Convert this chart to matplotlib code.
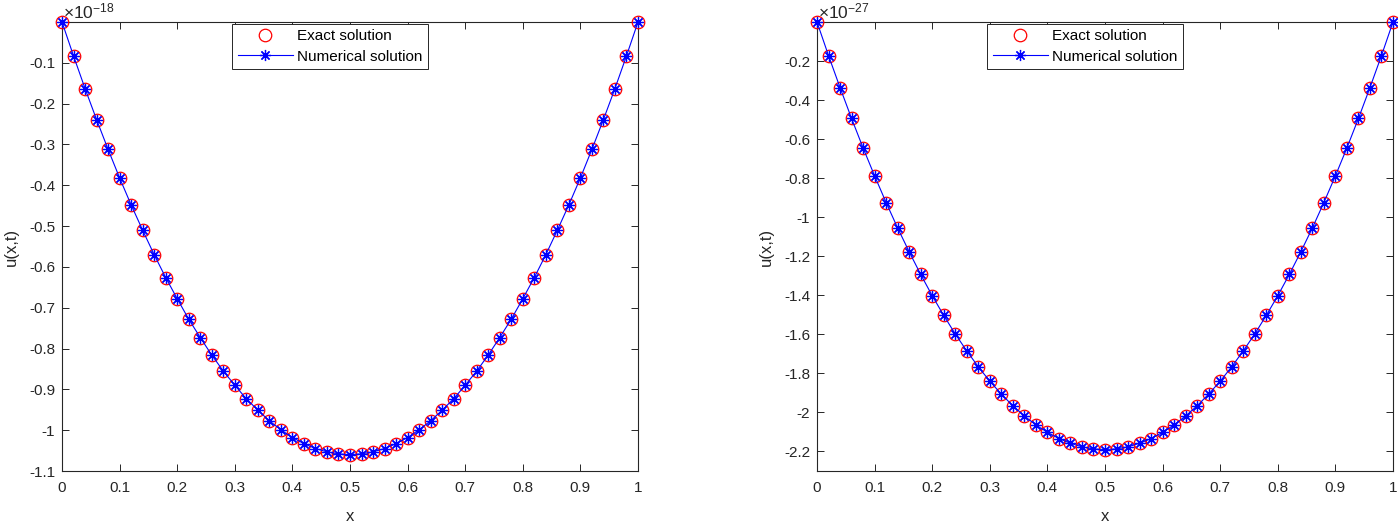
from matplotlib import pyplot as plt
from matplotlib.ticker import FuncFormatter
import numpy as np

# x grid (51 nodes)
x = np.round(np.arange(0, 51) * 0.02, 2)

# left panel, values in units of 1e-18
left_half = [0.000, -0.083, -0.163, -0.239, -0.312, -0.382, -0.448, -0.510,
             -0.570, -0.626, -0.678, -0.728, -0.773, -0.816, -0.855, -0.890,
             -0.923, -0.951, -0.977, -0.999, -1.018, -1.033, -1.045, -1.053,
             -1.058, -1.060]
u_left_exact = left_half + left_half[-2::-1]
u_left_num = list(u_left_exact)

# right panel, values in units of 1e-27
right_half = [0.000, -0.172, -0.336, -0.494, -0.645, -0.788, -0.925, -1.055,
              -1.177, -1.293, -1.402, -1.503, -1.598, -1.685, -1.766, -1.840,
              -1.906, -1.966, -2.018, -2.064, -2.102, -2.134, -2.158, -2.176,
              -2.187, -2.190]
u_right_exact = right_half + right_half[-2::-1]
u_right_num = list(right_half + right_half[-2::-1])

plt.rcParams['font.family'] = ['Liberation Sans', 'DejaVu Sans']
plt.rcParams['axes.unicode_minus'] = False
plt.rcParams['mathtext.fontset'] = 'custom'
plt.rcParams['mathtext.rm'] = 'Liberation Sans'
plt.rcParams['mathtext.it'] = 'Liberation Sans'

W, H = 1398, 524
fig = plt.figure(figsize=(W / 100, H / 100), dpi=100)

axcolor = '#262626'
fmt = FuncFormatter(lambda v, p: '%g' % round(v, 6))


def panel(left_px, exact, num, yticks, ymin, exp_label):
    ax = fig.add_axes([left_px / W, (H - 471) / H, 576 / W, 449 / H])
    ax.plot(x, exact, linestyle='none', marker='o', markersize=9,
            markerfacecolor='none', markeredgecolor='red', markeredgewidth=0.9,
            label='Exact solution', clip_on=False, zorder=3)
    ax.plot(x, num, color='blue', linewidth=0.8, marker=(8, 2, 0),
            markersize=8, markeredgewidth=0.9, label='Numerical solution',
            clip_on=False, zorder=4)
    ax.set_xlim(0, 1)
    ax.set_ylim(ymin, 0)
    ax.set_xticks(np.round(np.arange(0, 11) * 0.1, 1))
    ax.set_yticks(yticks)
    ax.xaxis.set_major_formatter(fmt)
    ax.yaxis.set_major_formatter(fmt)
    ax.tick_params(direction='in', top=True, right=True, length=5,
                   width=0.7, labelsize=11, colors=axcolor)
    ax.tick_params(axis='x', pad=7)
    ax.tick_params(axis='y', pad=5)
    for s in ax.spines.values():
        s.set_linewidth(0.8)
        s.set_color(axcolor)
    ax.set_xlabel('x', fontsize=12, color=axcolor, labelpad=10)
    ax.set_ylabel('u(x,t)', fontsize=12, color=axcolor, labelpad=7)
    ax.text(0.002, 1.002, r'$\times10^{-' + exp_label + '}$', transform=ax.transAxes,
            ha='left', va='bottom', fontsize=12.5, color=axcolor)
    leg = ax.legend(loc='upper left', bbox_to_anchor=(0.293, 1.0), fontsize=11,
                    fancybox=False, framealpha=1, edgecolor=axcolor,
                    handlelength=3.6, handletextpad=0.3, borderpad=0.35,
                    labelspacing=0.45, borderaxespad=0.1)
    leg.get_frame().set_linewidth(0.7)
    return ax


panel(62, u_left_exact, u_left_num,
      np.round(np.arange(-11, 0) * 0.1, 1), -1.1, '18')
panel(817, u_right_exact, u_right_num,
      np.round(np.arange(-11, 0) * 0.2, 1), -2.3, '27')

plt.savefig('out.png', dpi=100)
